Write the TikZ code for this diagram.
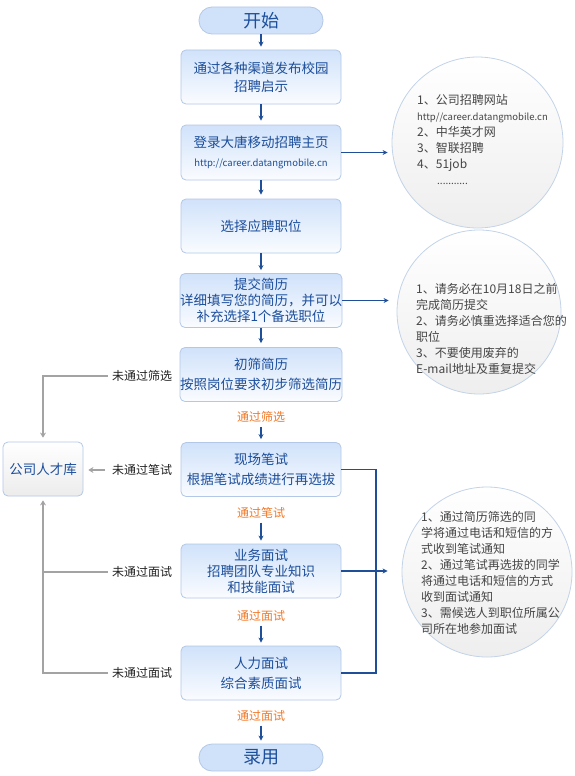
\documentclass[tikz,border=0pt]{standalone}
\usepackage{fontspec}
\setmainfont{Noto Sans CJK SC}
\usetikzlibrary{arrows.meta,positioning,calc}
\definecolor{boxline}{HTML}{B3C8E6}
\definecolor{boxtop}{HTML}{D0E2FA}
\definecolor{boxbot}{HTML}{FAFCFF}
\definecolor{boxink}{HTML}{1C4E9B}
\definecolor{flowblue}{HTML}{1F4F98}
\definecolor{passorange}{HTML}{F27A2A}
\definecolor{failgray}{HTML}{A3A3A3}
\definecolor{labelink}{HTML}{222222}
\definecolor{noteink}{HTML}{454545}
\definecolor{noteline}{HTML}{C3D3E8}
\definecolor{notebot}{HTML}{EEEEEE}
\definecolor{poolbot}{HTML}{ECECEC}
\tikzset{
  stepbox/.style={draw=boxline,top color=boxtop,bottom color=boxbot,line width=0.8pt,
                  rounded corners=5pt,minimum width=160pt,minimum height=54pt,
                  inner sep=0pt,align=center,text=boxink,
                  font=\fontsize{13.5}{17}\selectfont},
  endpill/.style={draw=boxline,top color=boxtop,middle color=boxbot,bottom color=boxtop,
                  line width=0.8pt,rounded corners=13pt,minimum width=124pt,
                  minimum height=27pt,inner sep=0pt,text=boxink,
                  font=\fontsize{18}{20}\selectfont},
  poolbox/.style={draw=boxline,top color=white,bottom color=poolbot,line width=0.8pt,
                  rounded corners=5pt,minimum width=80pt,minimum height=54pt,
                  inner sep=0pt,text=boxink,font=\fontsize{13.5}{17}\selectfont},
  notecircle/.style={circle,draw=noteline,top color=white,bottom color=notebot,
                     line width=0.8pt,inner sep=0pt},
  notetext/.style={align=left,anchor=north west,text=noteink,inner sep=0pt,
                   font=\fontsize{12}{16}\selectfont},
  passlabel/.style={text=passorange,inner sep=1pt,font=\fontsize{12}{14}\selectfont},
  faillabel/.style={text=labelink,inner sep=1pt,anchor=west,font=\fontsize{12}{14}\selectfont},
  flowarr/.style={-{Stealth[length=5pt,width=5pt]},line width=1.3pt,color=flowblue},
  flowline/.style={line width=1.3pt,color=flowblue},
  failarr/.style={-{Stealth[length=5pt,width=6pt]},line width=1.5pt,color=failgray},
  failline/.style={line width=1.5pt,color=failgray}
}
\begin{document}
\begin{tikzpicture}[x=1pt,y=-1pt]
  \fill[white] (0,0) rectangle (575,776);
  \useasboundingbox (0,0) rectangle (575,776);
  % main column
  \node[endpill] (start) at (261,20.5) {开始};
  \node[stepbox] (box1) at (261,77) {通过各种渠道发布校园\\[1pt]招聘启示};
  \node[stepbox,minimum height=55pt] (box2) at (261,152.5)
    {登录大唐移动招聘主页\\[2pt]{\fontsize{9.5}{12}\selectfont http://career.datangmobile.cn}};
  \node[stepbox] (box3) at (261,226) {选择应聘职位};
  \node[stepbox,font=\fontsize{13.5}{16}\selectfont] (box4) at (261,300.5)
    {提交简历\\详细填写您的简历，并可以\\补充选择1个备选职位};
  \node[stepbox] (box5) at (261,374.5) {初筛简历\\[3pt]按照岗位要求初步筛选简历};
  \node[passlabel] (pass1) at (261,417) {通过筛选};
  \node[stepbox] (box6) at (261,469.5) {现场笔试\\[3pt]根据笔试成绩进行再选拔};
  \node[passlabel] (pass2) at (261,513) {通过笔试};
  \node[stepbox,font=\fontsize{13.5}{16}\selectfont] (box7) at (261,571)
    {业务面试\\招聘团队专业知识\\和技能面试};
  \node[passlabel] (pass3) at (261,616) {通过面试};
  \node[stepbox] (box8) at (261,673) {人力面试\\[3pt]综合素质面试};
  \node[passlabel] (pass4) at (261,716) {通过面试};
  \node[endpill] (finish) at (261,757.5) {录用};
  \draw[flowarr,shorten >=3pt] (start) -- (box1);
  \draw[flowarr,shorten >=4pt] (box1) -- (box2);
  \draw[flowarr,shorten >=4pt] (box2) -- (box3);
  \draw[flowarr,shorten >=3pt] (box3) -- (box4);
  \draw[flowarr,shorten >=4pt] (box4) -- (box5);
  \draw[flowarr,shorten <=3pt,shorten >=3pt] (pass1) -- (box6);
  \draw[flowarr,shorten <=3pt,shorten >=3pt] (pass2) -- (box7);
  \draw[flowarr,shorten <=3pt,shorten >=3pt] (pass3) -- (box8);
  \draw[flowarr,shorten <=3pt,shorten >=3pt] (pass4) -- (finish);
  % notes on the right
  \node[notecircle,minimum size=171pt] (circ1) at (477.5,142.5) {};
  \node[notecircle,minimum size=164pt] (circ2) at (479,312) {};
  \node[notecircle,minimum size=170pt] (circ3) at (487,572) {};
  \node[notetext] (note1) at (417,94.5)
    {1、公司招聘网站\\{\fontsize{9.5}{16}\selectfont http//career.datangmobile.cn}\\
     2、中华英才网\\3、智联招聘\\4、51job\\
     \hspace{20pt}{\fontsize{10}{16}\selectfont ...........}};
  \node[notetext] (note2) at (416,283)
    {1、请务必在10月18日之前\\完成简历提交\\2、请务必慎重选择适合您的\\职位\\
     3、不要使用废弃的\\E-mail地址及重复提交};
  \node[notetext] (note3) at (421,511)
    {1、通过简历筛选的同\\学将通过电话和短信的方\\式收到笔试通知\\
     2、通过笔试再选拔的同学\\将通过电话和短信的方式\\收到面试通知\\
     3、需候选人到职位所属公\\司所在地参加面试};
  \draw[flowarr,shorten >=4pt] (box2.east) -- (box2.east -| circ1.west);
  \draw[flowarr,shorten >=8pt] (box4.east) -- (box4.east -| circ2.west);
  \coordinate (rail) at (376,0);
  \draw[flowline] (box6.east) -- (box6.east -| rail) -- (box8.east -| rail) -- (box8.east);
  \draw[flowarr,shorten >=14pt] (box7.east) -- (box7.east -| circ3.west);
  % talent pool on the left
  \node[poolbox] (pool) at (43,469) {公司人才库};
  \node[faillabel] (fail1) at (111,376) {未通过筛选};
  \node[faillabel] (fail2) at (111,470) {未通过笔试};
  \node[faillabel] (fail3) at (111,572) {未通过面试};
  \node[faillabel] (fail4) at (111,673) {未通过面试};
  \draw[failarr,shorten <=3pt,shorten >=4pt] (fail1.west) -| (pool.north);
  \draw[failarr,shorten <=6pt,shorten >=5pt] (fail2.west) -- (fail2.west -| pool.east);
  \draw[failline,shorten <=3pt] (fail3.west) -- (fail3.west -| pool.south);
  \draw[failarr,shorten <=3pt,shorten >=4pt] (fail4.west) -| (pool.south);
\end{tikzpicture}
\end{document}
